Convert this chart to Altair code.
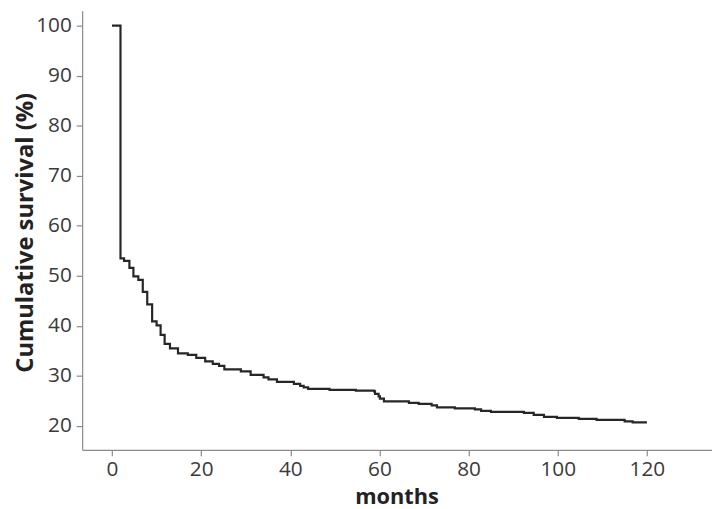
import altair as alt
import pandas as pd

months = [0, 1.9, 2.7, 3.9, 4.8, 5.9, 6.9, 7.9, 9.0, 10.0, 10.9, 11.8, 13.0, 14.8,
          17.0, 18.9, 20.9, 22.6, 24.0, 25.2, 28.9, 31.1, 34.0, 35.1, 37.0, 40.8,
          42.2, 43.0, 44.0, 48.8, 54.7, 58.8, 59.0, 59.8, 60.1, 61.0, 66.6, 68.8,
          71.7, 72.9, 76.9, 81.4, 82.8, 85.0, 92.4, 94.6, 96.9, 99.8, 104.7, 108.7,
          115.0, 116.8, 120.0]
survival = [100, 53.5, 53.0, 51.6, 49.9, 49.2, 46.8, 44.3, 40.9, 40.1, 38.2, 36.4, 35.5, 34.5,
            34.2, 33.6, 32.9, 32.4, 32.0, 31.3, 30.9, 30.2, 29.7, 29.3, 28.8, 28.4,
            28.0, 27.7, 27.4, 27.2, 27.05, 26.9, 26.4, 25.9, 25.45, 24.9, 24.6, 24.4,
            24.1, 23.7, 23.5, 23.3, 23.0, 22.8, 22.6, 22.2, 21.8, 21.6, 21.4, 21.2,
            20.9, 20.7, 20.7]
x_ticks = [0, 20, 40, 60, 80, 100, 120]
y_ticks = [20, 30, 40, 50, 60, 70, 80, 90, 100]

df = pd.DataFrame({"months": months, "survival": survival})

FONT = "Open Sans"
axis_common = dict(
    domainColor="#8a8a8a", domainWidth=1.2,
    tickColor="#8a8a8a", tickWidth=1.2, tickSize=6,
    labelFont=FONT, labelFontSize=21, labelColor="#3a3a3a",
    titleFont=FONT, titleFontWeight="bold", titleColor="#222222",
    grid=False,
)

chart = alt.Chart(df).mark_line(
    interpolate="step-after", color="#262626", strokeWidth=2.2, clip=True
).encode(
    x=alt.X("months:Q",
            scale=alt.Scale(domain=[-6.7, 134.6], nice=False, zero=False),
            axis=alt.Axis(values=x_ticks, title="months", titleFontSize=22,
                          labelPadding=3, titleX=318, titleY=47,
                          titleAlign="center", titleBaseline="middle",
                          **axis_common)),
    y=alt.Y("survival:Q",
            scale=alt.Scale(domain=[15.23, 102.95], nice=False, zero=False),
            axis=alt.Axis(values=y_ticks, title="Cumulative survival (%)",
                          titleFontSize=24, labelPadding=5,
                          titleAngle=-90, titleX=-57, titleY=224,
                          titleAlign="center", titleBaseline="middle",
                          **axis_common)),
).properties(
    width=637, height=444,
    autosize=alt.AutoSizeParams(type="none"),
    padding={"left": 75, "top": 0, "right": 0, "bottom": 57},
).configure_view(stroke=None)

chart.save("out.html", embed_options={"renderer": "svg", "actions": False})
